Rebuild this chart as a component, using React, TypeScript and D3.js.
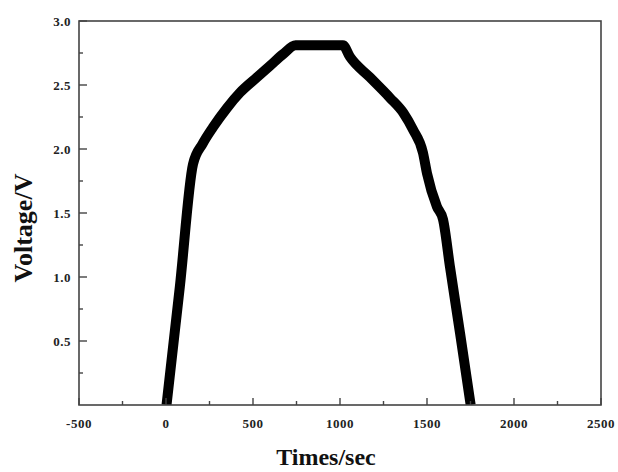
import React, { useEffect, useRef } from "react";
import * as d3 from "d3";

// charge / discharge curve
const timeSec = [3, 80, 155, 210, 270, 350, 425, 523, 598, 672, 745, 1017, 1057, 1172, 1287, 1365, 1420, 1477, 1500, 1557, 1592, 1632, 1690, 1751];
const voltage = [0, 0.93, 1.88, 2.04, 2.17, 2.32, 2.44, 2.56, 2.65, 2.74, 2.81, 2.81, 2.72, 2.56, 2.4, 2.28, 2.15, 1.97, 1.81, 1.55, 1.45, 1.08, 0.56, 0];

const xTicks = [-500, 0, 500, 1000, 1500, 2000, 2500];
const yTicks = [0.5, 1.0, 1.5, 2.0, 2.5, 3.0];

const W = 618;
const H = 472;

export default function App() {
  const ref = useRef<SVGSVGElement>(null);

  useEffect(() => {
    const svg = d3.select(ref.current);
    svg.selectAll("*").remove();

    const left = 79, right = 601, top = 21, bottom = 405;
    const x = d3.scaleLinear().domain([-500, 2500]).range([left, right]);
    const y = d3.scaleLinear().domain([0, 3]).range([bottom, top]);
    const axisColor = "#444";
    const font = "'Liberation Serif', 'Times New Roman', serif";

    svg.append("clipPath").attr("id", "plot")
      .append("rect")
      .attr("x", left).attr("y", top)
      .attr("width", right - left).attr("height", bottom - top);

    const data = timeSec.map((t, i) => [t, voltage[i]] as [number, number]);
    const line = d3.line<[number, number]>()
      .x(d => x(d[0]))
      .y(d => y(d[1]))
      .curve(d3.curveMonotoneX);

    svg.append("path")
      .datum(data)
      .attr("clip-path", "url(#plot)")
      .attr("d", line)
      .attr("fill", "none")
      .attr("stroke", "#000")
      .attr("stroke-width", 10)
      .attr("stroke-linejoin", "round");

    // frame
    svg.append("rect")
      .attr("x", left).attr("y", top)
      .attr("width", right - left).attr("height", bottom - top)
      .attr("fill", "none")
      .attr("stroke", axisColor)
      .attr("stroke-width", 1.6);

    // x ticks (inward)
    const xMinor = d3.range(-250, 2500, 500);
    svg.append("g").selectAll("line")
      .data(xTicks)
      .join("line")
      .attr("x1", d => x(d)).attr("x2", d => x(d))
      .attr("y1", bottom).attr("y2", bottom - 7)
      .attr("stroke", axisColor).attr("stroke-width", 1.4);
    svg.append("g").selectAll("line")
      .data(xMinor)
      .join("line")
      .attr("x1", d => x(d)).attr("x2", d => x(d))
      .attr("y1", bottom).attr("y2", bottom - 4)
      .attr("stroke", axisColor).attr("stroke-width", 1.4);

    svg.append("g").selectAll("text")
      .data(xTicks)
      .join("text")
      .attr("x", d => x(d))
      .attr("y", 428)
      .attr("text-anchor", "middle")
      .attr("font-family", font)
      .attr("font-weight", "bold")
      .attr("font-size", 13)
      .attr("letter-spacing", 0.5)
      .attr("fill", "#222")
      .text(d => String(d));

    // y ticks (inward)
    const yMinor = d3.range(0.25, 3, 0.5);
    svg.append("g").selectAll("line")
      .data(yTicks)
      .join("line")
      .attr("x1", left).attr("x2", left + 8)
      .attr("y1", d => y(d)).attr("y2", d => y(d))
      .attr("stroke", axisColor).attr("stroke-width", 1.4);
    svg.append("g").selectAll("line")
      .data(yMinor)
      .join("line")
      .attr("x1", left).attr("x2", left + 4)
      .attr("y1", d => y(d)).attr("y2", d => y(d))
      .attr("stroke", axisColor).attr("stroke-width", 1.4);

    svg.append("g").selectAll("text")
      .data(yTicks)
      .join("text")
      .attr("x", left - 8)
      .attr("y", d => y(d) + 4.5)
      .attr("text-anchor", "end")
      .attr("font-family", font)
      .attr("font-weight", "bold")
      .attr("font-size", 13)
      .attr("letter-spacing", 0.5)
      .attr("fill", "#222")
      .text(d => d.toFixed(1));

    // axis titles
    svg.append("text")
      .attr("transform", `translate(32, ${(top + bottom) / 2 + 15}) rotate(-90)`)
      .attr("text-anchor", "middle")
      .attr("font-family", font)
      .attr("font-weight", "bold")
      .attr("font-size", 26)
      .attr("fill", "#111")
      .text("Voltage/V");

    svg.append("text")
      .attr("x", 326)
      .attr("y", 465)
      .attr("text-anchor", "middle")
      .attr("font-family", font)
      .attr("font-weight", "bold")
      .attr("font-size", 24)
      .attr("fill", "#111")
      .text("Times/sec");
  }, []);

  return (
    <svg
      ref={ref}
      width={W}
      height={H}
      style={{ position: "absolute", left: 0, top: 0, background: "#fff" }}
    />
  );
}
